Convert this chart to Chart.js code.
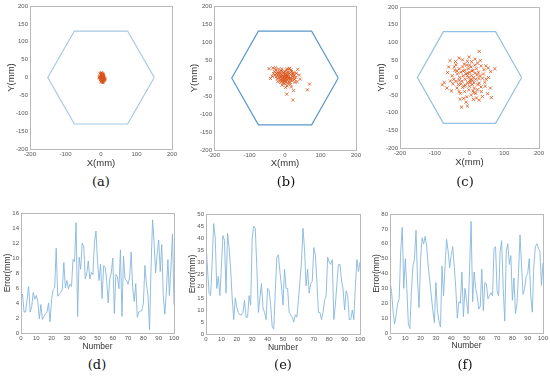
<!DOCTYPE html>
<html>
<head>
  <title>Positioning error figure</title>
  <script src="https://cdn.jsdelivr.net/npm/chart.js"></script>
  <style>
    body { margin: 0; background: #fff; }
    #fig { position: relative; width: 550px; height: 379px; }
    canvas { position: absolute; }
    .cap { position: absolute; font-family: "DejaVu Serif", serif; font-size: 13px; color: #111; transform: translateX(-50%); }
  </style>
</head>
<body>
<div id="fig">
  <canvas id="ca" width="185" height="172" style="left:0;top:0"></canvas>
  <canvas id="cb" width="185" height="172" style="left:183px;top:0"></canvas>
  <canvas id="cc" width="184" height="172" style="left:366px;top:0"></canvas>
  <canvas id="cd" width="185" height="152" style="left:0;top:205px"></canvas>
  <canvas id="ce" width="183" height="152" style="left:185px;top:205px"></canvas>
  <canvas id="cf" width="182" height="152" style="left:368px;top:205px"></canvas>
  <div class="cap" style="left:101px;top:174px">(a)</div>
  <div class="cap" style="left:286px;top:174px">(b)</div>
  <div class="cap" style="left:465px;top:174px">(c)</div>
  <div class="cap" style="left:97px;top:357px">(d)</div>
  <div class="cap" style="left:283px;top:357px">(e)</div>
  <div class="cap" style="left:465px;top:357px">(f)</div>
</div>
<script>
  // hexagon workspace outline (mm)
  var hexX = [150, 75, -75, -150, -75, 75, 150];
  var hexY = [0, 130, 130, 0, -130, -130, 0];

  // measured end positions (mm) for the three test cases
  var pointsA = [[-3,12],[0,13],[2,14],[4,12],[6,11],[1,10],[3,9],[5,9],[7,8],[-1,8],[2,7],[4,6],[6,6],[8,5],[0,5],
    [-4,3],[-2,2],[1,3],[3,2],[5,3],[7,2],[9,1],[-6,1],[-3,0],[0,0],[2,0],[4,-1],[6,0],[8,-1],[10,-2],[-5,-2],
    [-1,-3],[1,-2],[3,-4],[5,-3],[7,-4],[9,-5],[11,-6],[-2,-6],[0,-5],[2,-7],[4,-6],[6,-8],[8,-7],[10,-9],[1,-10],
    [3,-11],[5,-10],[7,-12],[0,-13],[4,-14],[6,-15],[2,-9],[-1,-1],[12,-3],[8,3],[5,5],[3,4],[1,-7],[6,-5]];

  var pointsB = [[-45,26],[-34,28],[-41,-1],[69,-17],[63,-33],[24,-35],[5,-45],[22,-61],[2,-26],[43,-3],[36,24],
    [27,-4],[32,13],[-30,18],[-25,22],[-22,15],[-20,10],[-18,25],[-15,18],[-12,12],[-10,20],[-8,8],[-6,4],[-4,15],
    [-2,10],[0,5],[2,12],[4,22],[6,8],[8,16],[10,2],[12,25],[13,27],[15,10],[18,18],[20,5],[22,11],[25,15],[-28,8],
    [-25,3],[-22,-2],[-19,5],[-16,0],[-14,-5],[-11,3],[-9,-2],[-7,-8],[-5,0],[-3,-4],[-1,2],[1,-3],[3,0],[5,-6],
    [7,3],[9,-2],[11,-10],[14,-4],[16,0],[19,-8],[21,-2],[24,3],[26,8],[28,-12],[-32,12],[-27,28],[-20,-10],
    [-12,-12],[-5,-14],[2,-12],[8,-15],[15,-18],[-17,13],[-9,25],[0,18],[6,25],[10,14],[17,22],[-3,-9],[4,5],
    [12,-1],[30,2],[-24,12],[-13,7],[-7,17],[1,8],[9,9],[19,12],[-36,5],[14,-12],[-1,-16],[6,-22],[-8,-20],
    [18,-25],[34,-10],[40,8],[-10,-6],[0,-8]];

  var pointsC = [[28,74],[-56,48],[-20,50],[-6,46],[6,45],[-63,14],[-73,-14],[-78,-21],[-65,-30],[-39,36],[-39,-11],
    [-30,-40],[-27,-62],[-17,-59],[-23,-84],[-6,-81],[11,-62],[28,-64],[37,-54],[52,-46],[63,-57],[23,-35],[13,-43],
    [42,22],[54,27],[61,17],[73,25],[47,33],[33,33],[31,48],[23,41],[37,-2],[44,-14],[33,-27],[28,-16],[-50,5],
    [-45,-5],[-42,20],[-35,10],[-32,-20],[-30,25],[-28,0],[-25,15],[-22,-10],[-20,30],[-18,5],[-16,-25],[-14,20],
    [-12,-5],[-10,10],[-8,35],[-6,-15],[-4,25],[-2,0],[0,15],[2,-10],[4,30],[6,5],[8,-20],[10,20],[12,0],[14,-30],
    [16,12],[18,-5],[20,25],[22,8],[24,-20],[26,15],[-48,-18],[-36,-30],[-26,-45],[-14,-40],[-2,-35],[5,-50],
    [18,-45],[-55,-10],[-40,45],[-15,38],[0,35],[15,35],[10,-38],[-8,-55],[0,-25],[-30,-8],[-20,-28],[30,5],
    [40,10],[48,-5],[55,0],[60,-30],[45,-25],[-60,30],[-10,-70],[-24,-18],[-18,18],[-5,12],[7,18],[3,-5],[-36,18],
    [-44,30],[-52,-38],[34,-40],[20,-58],[-1,58],[16,52],[-30,55],[8,-8],[13,-15],[27,-3],[-12,-22],[-6,5],[1,-15]];

  // error per trial number 0..100 (mm)
  var errorD = [4.5,5.2,2.8,2.8,4.5,6.2,2.8,3.5,5.4,4.5,5.0,4.2,1.9,3.8,1.8,2.2,2.5,2.8,4.0,1.5,4.5,5.8,6.0,11.3,
    4.9,5.2,5.4,5.8,9.4,6.0,7.0,5.9,6.5,6.2,9.8,9.5,14.7,2.2,10.1,8.5,12.0,11.5,7.2,8.0,9.6,7.2,8.1,7.8,12.0,13.6,
    9.5,7.0,9.2,4.6,9.0,8.8,7.0,4.0,7.2,8.0,10.0,2.6,7.8,7.5,5.9,11.1,2.2,10.2,7.2,7.0,6.5,7.5,10.8,6.0,4.2,6.6,
    2.1,2.8,2.9,3.0,4.0,9.0,6.5,5.0,0.4,8.8,15.1,12.0,8.0,10.5,12.4,8.2,11.8,5.0,2.5,5.5,9.8,5.0,8.8,13.2,3.8];
  var errorE = [38,27,17,16,30,46,40,19,24,16,28,41,39,17,42,36,27,15,6,15,11,9,8,8,9,14,7,7,16,12,40,45,44,28,9,
    15,21,11,9,6,19,18,12,3,2,18,32,33,26,20,12,27,19,19,9,8,7,5,8,7,14,22,30,44,35,20,27,17,21,22,36,33,22,9,9,6,
    9,14,16,32,30,29,31,6,12,21,29,29,22,19,10,18,16,6,6,10,6,20,31,26,30];
  var errorF = [35,28,15,6,12,20,23,55,71,30,50,30,6,3,28,45,50,69,35,17,50,64,60,65,58,45,35,25,15,7,34,15,8,4,45,
    25,45,63,55,44,52,58,45,30,10,21,20,41,11,30,22,13,42,75,21,41,30,25,16,18,43,15,34,33,23,25,27,25,57,58,28,25,
    55,62,30,8,55,60,46,52,22,37,13,20,40,66,45,26,30,38,40,50,25,14,45,58,60,57,55,32,47];

  var fam = 'Liberation Sans, Arial, sans-serif';

  // draws the closed MATLAB-style box around the plot area
  var boxPlugin = {
    id: 'box',
    afterDraw: function(chart) {
      var a = chart.chartArea, c = chart.ctx;
      c.save();
      c.strokeStyle = '#b8b8b8';
      c.lineWidth = 1;
      c.strokeRect(Math.round(a.left) + 0.5, Math.round(a.top) + 0.5, Math.round(a.right - a.left), Math.round(a.bottom - a.top));
      c.restore();
    }
  };

  // size = width (y) or height (x) of the axis band, tp = title offset from the outer edge
  function axis(min, max, step, title, titleSize, size, tp, isY) {
    return {
      type: 'linear', min: min, max: max,
      grid: { display: false, drawTicks: false },
      border: { display: false },
      ticks: { stepSize: step, font: { family: fam, size: 6 }, color: '#555', padding: 2, maxRotation: 0, autoSkip: false },
      title: { display: true, text: title, font: { family: fam, size: titleSize }, color: '#333',
        padding: isY ? { top: tp, bottom: 0 } : { top: 0, bottom: tp } },
      afterFit: function(s) { if (isY) { s.width = size; } else { s.height = size; } }
    };
  }

  function scatterChart(id, pts, hexColor, r, yW, ytp, xH, xtp, pad) {
    var hex = hexX.map(function(x, i) { return { x: x, y: hexY[i] }; });
    new Chart(document.getElementById(id), {
      type: 'scatter',
      data: {
        datasets: [
          { data: hex, showLine: true, borderColor: hexColor, borderWidth: 1.2, pointRadius: 0, fill: false },
          { data: pts.map(function(p) { return { x: p[0], y: p[1] }; }), pointStyle: 'crossRot', pointRadius: r,
            borderColor: '#D95319', borderWidth: 0.8 }
        ]
      },
      options: {
        responsive: false, animation: false,
        layout: { padding: pad },
        plugins: { legend: { display: false }, tooltip: { enabled: false } },
        scales: {
          x: axis(-200, 200, 100, 'X(mm)', 9.5, xH, xtp, false),
          y: axis(-200, 200, 50, 'Y(mm)', 9.5, yW, ytp, true)
        }
      },
      plugins: [boxPlugin]
    });
  }

  function errorChart(id, vals, ymax, ystep, yW, ytp, xH, xtp, pad) {
    new Chart(document.getElementById(id), {
      type: 'scatter',
      data: {
        datasets: [{ data: vals.map(function(v, i) { return { x: i, y: v }; }), showLine: true,
          borderColor: '#86b7de', borderWidth: 0.9, pointRadius: 0, tension: 0 }]
      },
      options: {
        responsive: false, animation: false,
        layout: { padding: pad },
        plugins: { legend: { display: false }, tooltip: { enabled: false } },
        scales: {
          x: axis(0, 100, 10, 'Number', 8.5, xH, xtp, false),
          y: axis(0, ymax, ystep, 'Error(mm)', 8.5, yW, ytp, true)
        }
      },
      plugins: [boxPlugin]
    });
  }

  scatterChart('ca', pointsA, '#a7c8e3', 1.8, 30, 6, 23, 3, { top: 6, right: 13 });
  scatterChart('cb', pointsB, '#5b98c9', 2.2, 31, 6, 22, 3, { top: 6, right: 12 });
  scatterChart('cc', pointsC, '#94c0e2', 2.2, 34, 10, 24, 4, { top: 7, right: 11 });
  errorChart('cd', errorD, 16, 2, 21, 3, 24, 5, { top: 8, right: 11 });
  errorChart('ce', errorE, 50, 5, 21, 3, 23, 4, { top: 9, right: 8 });
  errorChart('cf', errorF, 80, 10, 22, 4, 24, 6, { top: 9, right: 4 });
</script>
</body>
</html>
